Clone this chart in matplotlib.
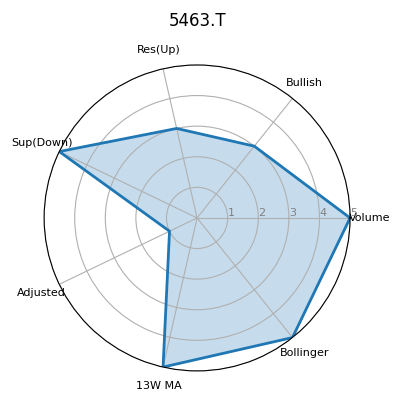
import numpy as np
import matplotlib
matplotlib.use("Agg")
from matplotlib import pyplot as plt

# 各指标得分
labels = ["Volume", "Bullish", "Res(Up)", "Sup(Down)", "Adjusted", "13W MA", "Bollinger"]
scores = [5, 3, 3, 5, 1, 5, 5]
ticker = "5463.T"

angles = np.linspace(0, 2 * np.pi, len(labels), endpoint=False).tolist()
vals = scores + scores[:1]
angles_c = angles + angles[:1]

fig = plt.figure(figsize=(4.01, 4.01), dpi=100)
ax = fig.add_axes([0.110, 0.075, 0.763, 0.763], polar=True)
ax.plot(angles_c, vals, color="#1f77b4", linewidth=2)
ax.fill(angles_c, vals, color="#1f77b4", alpha=0.25)
ax.set_xticks(angles)
ax.set_xticklabels(labels, fontsize=8)
ax.set_ylim(0, 5)
ax.set_yticks([1, 2, 3, 4, 5])
ax.set_yticklabels(["1", "2", "3", "4", "5"], fontsize=8, color="grey")
ax.set_rlabel_position(0)
ax.grid(color="#b0b0b0")
ax.set_title(ticker, y=1.1)
plt.savefig("out.png", dpi=100)
